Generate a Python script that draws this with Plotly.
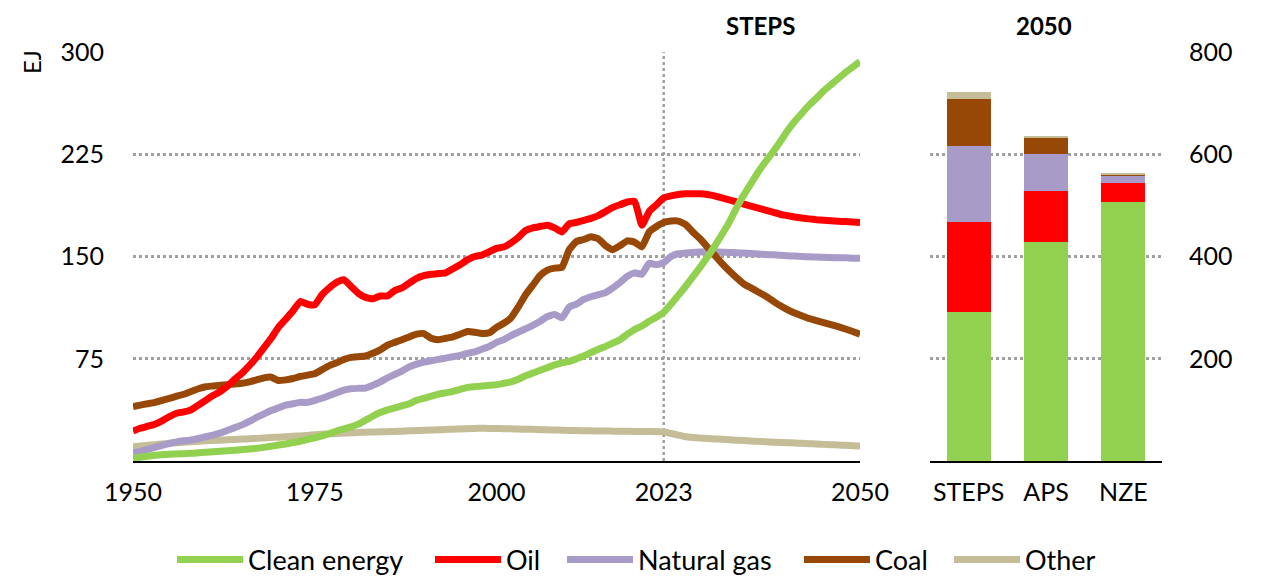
import plotly.graph_objects as go

# ---------------- data ----------------
years = list(range(1950, 2051))

clean_energy = [
    2, 2.8, 3.5, 4.2, 4.6, 5, 5.2, 5.4, 5.6, 6,
    6.4, 6.8, 7.1, 7.5, 7.9, 8.3, 8.8, 9.3, 10, 10.8,
    11.7, 12.5, 13.5, 14.5, 15.8, 17, 18.5, 20, 22, 23.5,
    25, 27, 30, 33, 35.5, 37.5, 39, 40.5, 42, 44.5,
    46, 47.5, 49, 50, 51, 52.5, 54, 54.5, 55, 55.5,
    56, 57, 58, 60, 62.5, 64.5, 66.5, 68.5, 70.5, 72,
    73, 75, 77, 79.5, 82, 84, 86.5, 89, 93, 96.5,
    99, 102.5, 105.5, 109, 115, 121.5, 128, 135, 142, 149.5,
    157.5, 166, 175, 185.5, 195, 203.5, 212, 219.5, 226.5, 234,
    242, 249, 255, 261, 266, 271.5, 276, 280.5, 285, 289,
    293,
]

oil = [
    22, 24, 25.5, 27, 29.5, 32.5, 35, 36, 37.5, 41,
    44.5, 48, 51, 55, 60, 64.5, 70, 76, 83, 90,
    98, 104, 110, 117, 115, 114.5, 122, 127, 131, 133,
    128, 123, 120, 119, 121, 121, 125, 127, 130.5, 134,
    136, 137, 137.5, 138, 141, 144, 147.5, 150, 151, 153.5,
    156, 157, 160, 164, 169, 171, 172, 173, 171, 168,
    174, 175, 176.5, 178, 180, 183, 186, 188, 190, 190.5,
    173, 183, 188, 193, 194.5, 195.5, 196, 196, 196, 195.5,
    194.5, 193, 191.5, 190, 188.5, 187, 185.5, 184, 182.5, 181,
    180, 179, 178.2, 177.6, 177, 176.6, 176.2, 175.9, 175.6, 175.3,
    175,
]

natural_gas = [
    6, 7, 8.5, 10, 11.5, 12.8, 14, 14.8, 15.4, 16.5,
    17.8, 19, 20.5, 22.5, 24.5, 26.5, 29, 32, 34.5, 37,
    39, 41, 42, 43, 43, 44.5, 46, 48, 50, 52,
    53, 53.3, 53.5, 55.5, 58, 61, 63.5, 66, 69, 71,
    72.5, 73.5, 74.5, 75.5, 76.5, 77.5, 79, 80, 82, 84,
    87, 89, 92, 94.5, 97, 99.5, 102.5, 106, 107.5, 105,
    113, 115, 118.5, 120.5, 122, 123.5, 127, 131, 135.5, 138,
    137, 145, 144, 145.5, 150, 152, 152.5, 153, 153.3, 153.5,
    153.4, 153.2, 153, 152.8, 152.5, 152.2, 151.8, 151.5, 151.2, 150.9,
    150.6, 150.3, 150, 149.8, 149.6, 149.4, 149.2, 149.1, 149, 148.8,
    148.7,
]

coal = [
    40, 41, 42, 43, 44.5, 46, 47.5, 49, 51, 53,
    54.5, 55, 55.5, 56, 56.5, 57, 58, 59.5, 61, 61.5,
    59, 59.5, 60.5, 62, 63, 64, 67, 70, 72, 74.5,
    76, 76.5, 77, 79, 81.5, 85, 87, 89, 91, 93,
    93.5, 90, 89, 90, 91, 93, 95, 94.5, 93.5, 94,
    98, 101, 105, 113, 122, 129, 136, 140, 141.5, 142,
    155, 161, 162.5, 164.5, 163, 158, 155, 158, 161.5, 160.5,
    157, 168, 172, 175, 176, 176, 173.5, 168, 163, 157,
    151, 145, 139.5, 134.5, 130, 127, 124, 121, 117.5, 114,
    111, 108.5, 106.5, 104.5, 103, 101.5, 100, 98.5, 96.8, 95,
    93,
]

other = [
    10.5, 11, 11.5, 12, 12.5, 13, 13.4, 13.8, 14.2, 14.5,
    14.8, 15.1, 15.3, 15.6, 15.8, 16.1, 16.3, 16.6, 16.9, 17.2,
    17.5, 17.8, 18.1, 18.4, 18.8, 19.2, 19.6, 19.9, 20.2, 20.5,
    20.7, 20.9, 21.1, 21.3, 21.4, 21.5, 21.7, 21.9, 22.1, 22.3,
    22.5, 22.7, 22.9, 23.1, 23.3, 23.5, 23.7, 23.9, 24, 23.9,
    23.8, 23.7, 23.6, 23.4, 23.3, 23.2, 23, 22.9, 22.7, 22.6,
    22.4, 22.3, 22.2, 22.1, 22, 22, 21.9, 21.8, 21.8, 21.7,
    21.6, 21.6, 21.5, 21.5, 20.2, 19, 17.8, 17.3, 16.9, 16.5,
    16.2, 15.9, 15.6, 15.3, 15, 14.7, 14.4, 14.1, 13.8, 13.6,
    13.4, 13.2, 13, 12.7, 12.5, 12.2, 12, 11.7, 11.5, 11.2,
    11,
]

scenarios = ["STEPS", "APS", "NZE"]
bar_clean = [292, 428, 506]
bar_oil = [175, 100, 38]
bar_gas = [150, 73, 14]
bar_coal = [92, 30, 3]
bar_other = [12, 4, 2]

x_ticks = [1950, 1975, 2000, 2023, 2050]
y_ticks_left = [75, 150, 225, 300]
y_ticks_right = [200, 400, 600, 800]
projection_start = 2023

# ---------------- style ----------------
W, H = 1280, 585
OFF = 8  # page body margin
FONT = "Lato"
C_CLEAN = "#92D050"
C_OIL = "#FF0000"
C_GAS = "#A99BC8"
C_COAL = "#974806"
C_OTHER = "#C4BD97"
GRID = "#A0A0A0"


def fx(px):
    return (px - OFF) / W


def fy(py):
    return (H - (py - OFF)) / H


fig = go.Figure()

# draw order (back to front) and the legend each entry belongs to
series = [
    ("Other", other, C_OTHER, "legend5"),
    ("Natural gas", natural_gas, C_GAS, "legend3"),
    ("Coal", coal, C_COAL, "legend4"),
    ("Oil", oil, C_OIL, "legend2"),
    ("Clean energy", clean_energy, C_CLEAN, "legend"),
]
for name, vals, col, leg in series:
    fig.add_trace(go.Scatter(
        x=years, y=vals, name=name, mode="lines",
        line=dict(color=col, width=7, shape="spline", smoothing=0.4),
        legend=leg, xaxis="x", yaxis="y",
        hovertemplate="%{x}: %{y} EJ<extra>" + name + "</extra>",
    ))

for name, vals, col in [
    ("Clean energy", bar_clean, C_CLEAN),
    ("Oil", bar_oil, C_OIL),
    ("Natural gas", bar_gas, C_GAS),
    ("Coal", bar_coal, C_COAL),
    ("Other", bar_other, C_OTHER),
]:
    fig.add_trace(go.Bar(
        x=scenarios, y=vals, name=name, marker=dict(color=col, line=dict(width=0)),
        width=0.57, xaxis="x2", yaxis="y2", showlegend=False,
    ))

fig.add_shape(type="line", xref="x", yref="y",
              x0=projection_start, x1=projection_start, y0=0, y1=300,
              line=dict(color=GRID, width=2.5, dash="dot"), layer="below")

tickfont = dict(family=FONT, size=25, color="#000000")
legfont = dict(family=FONT, size=27, color="#000000")


def leg(px):
    return dict(orientation="h", x=fx(px), xanchor="left", y=fy(560), yanchor="middle",
                font=legfont, itemwidth=66, bgcolor="rgba(0,0,0,0)",
                borderwidth=0, traceorder="normal")


fig.update_layout(
    width=W, height=H,
    margin=dict(l=0, r=0, t=0, b=0),
    paper_bgcolor="white", plot_bgcolor="white",
    barmode="stack", bargap=0,
    font=dict(family=FONT, size=24, color="#000000"),
    showlegend=True,
    legend=leg(172),
    legend2=leg(430),
    legend3=leg(562),
    legend4=leg(799),
    legend5=leg(949),
    xaxis=dict(domain=[fx(133), fx(860)], range=[1950, 2050],
               tickvals=x_ticks, ticktext=[str(t) for t in x_ticks],
               showgrid=False, zeroline=False, showline=True,
               linecolor="#000000", linewidth=2, ticks="",
               tickfont=tickfont, ticklabelstandoff=8, anchor="y", automargin=False),
    yaxis=dict(domain=[fy(461), fy(52)], range=[0, 300],
               tickvals=y_ticks_left, showgrid=True, gridcolor=GRID,
               griddash="dot", gridwidth=2.5, zeroline=False, showline=False,
               ticks="", tickfont=tickfont, ticklabelstandoff=28,
               anchor="x", automargin=False),
    xaxis2=dict(domain=[fx(930), fx(1162)], range=[-0.5, 2.5],
                showgrid=False, zeroline=False, showline=True,
                linecolor="#000000", linewidth=2, ticks="",
                tickfont=tickfont, ticklabelstandoff=8, anchor="y2", automargin=False),
    yaxis2=dict(domain=[fy(461), fy(52)], range=[0, 800],
                tickvals=y_ticks_right, side="right", showgrid=True, gridcolor=GRID,
                griddash="dot", gridwidth=2.5, zeroline=False, showline=False,
                ticks="", tickfont=tickfont, ticklabelstandoff=26,
                anchor="x2", automargin=False),
    annotations=[
        dict(text="<b>STEPS</b>", xref="paper", yref="paper",
             x=fx(760), y=fy(25), xanchor="center", yanchor="middle",
             showarrow=False, font=dict(family=FONT, size=24, color="#000000")),
        dict(text="<b>2050</b>", xref="paper", yref="paper",
             x=fx(1044), y=fy(25), xanchor="center", yanchor="middle",
             showarrow=False, font=dict(family=FONT, size=24, color="#000000")),
        dict(text="EJ", xref="paper", yref="paper", textangle=-90,
             x=fx(31), y=fy(62), xanchor="center", yanchor="middle",
             showarrow=False, font=dict(family=FONT, size=24, color="#000000")),
    ],
)

fig.write_html("out.html")
